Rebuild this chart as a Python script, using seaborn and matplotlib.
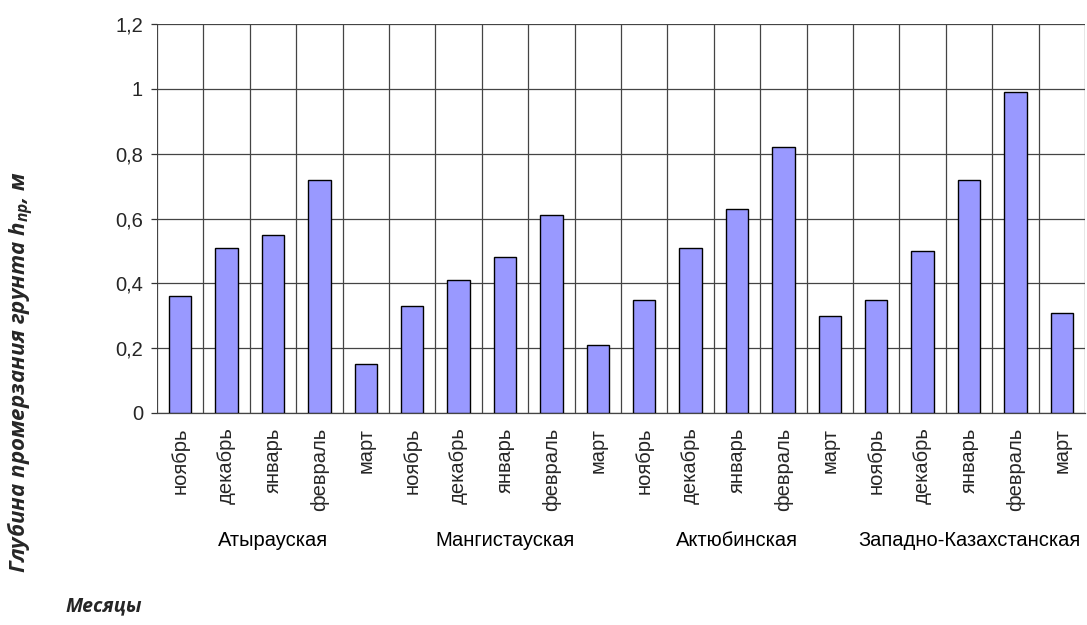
import matplotlib
matplotlib.use("Agg")
import matplotlib.pyplot as plt
import seaborn as sns
import pandas as pd
import numpy as np
from matplotlib.ticker import FixedLocator, FuncFormatter
import matplotlib.transforms as mtransforms

regions = ["Атырауская", "Мангистауская", "Актюбинская", "Западно-Казахстанская"]
months = ["ноябрь", "декабрь", "январь", "февраль", "март"]
atyrau = [0.36, 0.51, 0.55, 0.72, 0.15]
mangistau = [0.33, 0.41, 0.48, 0.61, 0.21]
aktobe = [0.35, 0.51, 0.63, 0.82, 0.30]
zko = [0.35, 0.50, 0.72, 0.99, 0.31]
series = [atyrau, mangistau, aktobe, zko]
y_ticks = [0, 0.2, 0.4, 0.6, 0.8, 1.0, 1.2]

rows = []
for r, vals in zip(regions, series):
    for m, v in zip(months, vals):
        rows.append({"key": f"{r}|{m}", "region": r, "month": m, "value": v})
df = pd.DataFrame(rows)
order = list(df["key"])

sns.set_theme(style="white")
plt.rcParams['font.family'] = ['Liberation Sans', 'DejaVu Sans']

fig = plt.figure(figsize=(10.87, 6.25), dpi=100)
ax = fig.add_axes([157/1087, 1-413/625, (1085-157)/1087, (413-24)/625])

sns.barplot(data=df, x="key", y="value", order=order, color="#9999FF",
            saturation=1, width=0.48, edgecolor="black", linewidth=1.0, ax=ax, zorder=3)

ax.set_xlim(-0.5, len(order) - 0.5)
ax.set_ylim(0, 1.2)
ax.set_yticks(y_ticks)
ax.yaxis.set_major_formatter(FuncFormatter(lambda v, p: ("%g" % round(v, 1)).replace(".", ",")))
ax.set_xticks(range(len(order)))
ax.set_xticklabels(list(df["month"]), rotation=90, fontsize=14.5)
ax.xaxis.set_minor_locator(FixedLocator(np.arange(-0.5, len(order), 1.0)))
ax.tick_params(axis="x", which="both", length=0, pad=10.5)
ax.tick_params(axis="y", which="major", length=4.5, width=0.9, color="#333333",
               labelsize=14.5, pad=5.5, direction="out", left=True)
ax.grid(axis="x", which="minor", color="#444444", linewidth=0.9, zorder=0)
ax.grid(axis="y", which="major", color="#444444", linewidth=0.9, zorder=0)
ax.set_axisbelow(True)
for s in ["top", "right", "left"]:
    ax.spines[s].set_visible(False)
ax.spines["bottom"].set_color("#444444")
ax.spines["bottom"].set_linewidth(0.9)
ax.set_xlabel("")
ax.set_ylabel("")

trans = mtransforms.blended_transform_factory(ax.transData, fig.transFigure)
for i, r in enumerate(regions):
    ax.text(i * 5 + 2, 1 - 541/625, r, transform=trans, ha="center", va="center",
            fontsize=14.5, color="black")

lab_font = ['Open Sans', 'DejaVu Sans']
fig.text(66/1087, 1 - 606/625, "Месяцы", fontsize=14, fontweight="bold", fontstyle="italic",
         family=lab_font, ha="left", va="center")

plt.rcParams['mathtext.fontset'] = 'custom'
plt.rcParams['mathtext.it'] = 'Open Sans:italic:bold'
plt.rcParams['mathtext.rm'] = 'Open Sans:italic:bold'
fig.text(21/1087, 1 - 372/625, r"Глубина промерзания грунта $h_{пр}$, м", rotation=90,
         fontsize=16, fontweight="bold", fontstyle="italic", family=lab_font,
         ha="center", va="center")

fig.savefig("out.png", dpi=100)
